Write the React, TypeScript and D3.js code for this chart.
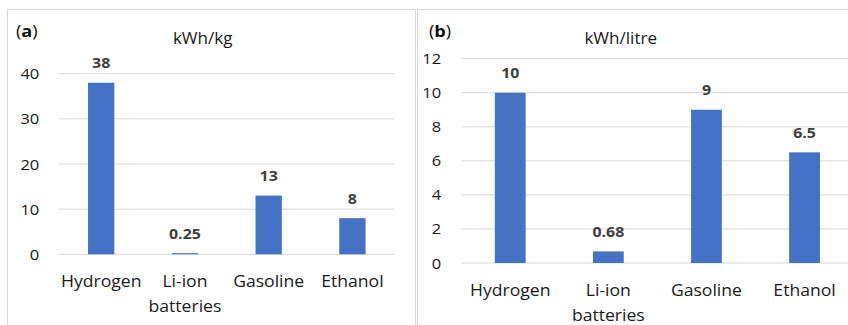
import React from "react";
import * as d3 from "d3";

const categories = ["Hydrogen", "Li-ion batteries", "Gasoline", "Ethanol"];
const categoryLines = [["Hydrogen"], ["Li-ion", "batteries"], ["Gasoline"], ["Ethanol"]];
const massValues = [38, 0.25, 13, 8];
const volumeValues = [10, 0.68, 9, 6.5];
const massTicks = [0, 10, 20, 30, 40];
const volumeTicks = [0, 2, 4, 6, 8, 10, 12];
const massTitle = "kWh/kg";
const volumeTitle = "kWh/litre";

const FONT = "'Open Sans', Lato, sans-serif";
const SX = 1.1;
const BAR = "#4472C4";
const GRID = "#D9D9D9";
const BORDER = "#D9D9D9";

type PanelProps = {
  letter: string;
  title: string;
  values: number[];
  ticks: number[];
  box: { x: number; y: number; w: number; h: number };
  plot: { x0: number; x1: number; y0: number; y1: number };
  titleX: number;
  letterX: number;
  letterY: number;
};

function T(props: { x: number; y: number; anchor?: string; size: number; weight?: string | number; fill?: string; children: React.ReactNode }) {
  const { x, y, anchor = "start", size, weight = 400, fill = "#1a1a1a", children } = props;
  return (
    <text
      transform={`translate(${x},${y}) scale(${SX},1)`}
      textAnchor={anchor}
      fontSize={size}
      fontWeight={weight}
      fill={fill}
      fontFamily={FONT}
    >
      {children}
    </text>
  );
}

function Panel({ letter, title, values, ticks, box, plot, titleX, letterX, letterY }: PanelProps) {
  const x = d3.scaleBand<string>().domain(categories).range([plot.x0, plot.x1]).paddingInner(0.686).paddingOuter(0.343);
  const y = d3.scaleLinear().domain([0, ticks[ticks.length - 1]]).range([plot.y0, plot.y1]);
  return (
    <g>
      <rect x={box.x} y={box.y} width={box.w} height={box.h} fill="#fff" stroke={BORDER} strokeWidth={1} />
      {ticks.map((t) => (
        <g key={t}>
          <line x1={plot.x0} x2={plot.x1} y1={y(t)} y2={y(t)} stroke={GRID} strokeWidth={1} />
          <T x={plot.x0 - 20} y={y(t) + 5.5} anchor="end" size={15}>{t}</T>
        </g>
      ))}
      {categories.map((c, i) => (
        <g key={c}>
          <rect x={x(c)} y={y(values[i])} width={x.bandwidth()} height={y(0) - y(values[i])} fill={BAR} />
          <T x={(x(c) as number) + x.bandwidth() / 2} y={y(values[i]) - 14.5} anchor="middle" size={14.5} weight={700} fill="#404040">
            {String(values[i])}
          </T>
          {categoryLines[i].map((line, j) => (
            <T key={j} x={(x(c) as number) + x.bandwidth() / 2} y={plot.y0 + 33 + j * 24.5} anchor="middle" size={16}>
              {line}
            </T>
          ))}
        </g>
      ))}
      <T x={titleX} y={44} anchor="middle" size={15.5}>{title}</T>
      <text
        transform={`translate(${letterX},${letterY}) scale(${SX},1)`}
        fontSize={16.5}
        fill="#111"
        fontFamily={FONT}
      >
        (<tspan fontWeight={700}>{letter}</tspan>)
      </text>
    </g>
  );
}

export default function App() {
  return (
    <svg width={848} height={325} style={{ position: "absolute", left: 0, top: 0, background: "#fff" }}>
      <rect x={0} y={0} width={848} height={325} fill="#fff" />
      <Panel
        letter="a"
        title={massTitle}
        values={massValues}
        ticks={massTicks}
        box={{ x: 7.5, y: 9.5, w: 408, h: 330 }}
        plot={{ x0: 59.3, x1: 394.3, y0: 254.3, y1: 73.7 }}
        titleX={202.7}
        letterX={16}
        letterY={37}
      />
      <Panel
        letter="b"
        title={volumeTitle}
        values={volumeValues}
        ticks={volumeTicks}
        box={{ x: 417.5, y: 9.5, w: 450, h: 330 }}
        plot={{ x0: 461.2, x1: 853.6, y0: 263, y1: 58.7 }}
        titleX={620.7}
        letterX={429}
        letterY={36.5}
      />
    </svg>
  );
}
